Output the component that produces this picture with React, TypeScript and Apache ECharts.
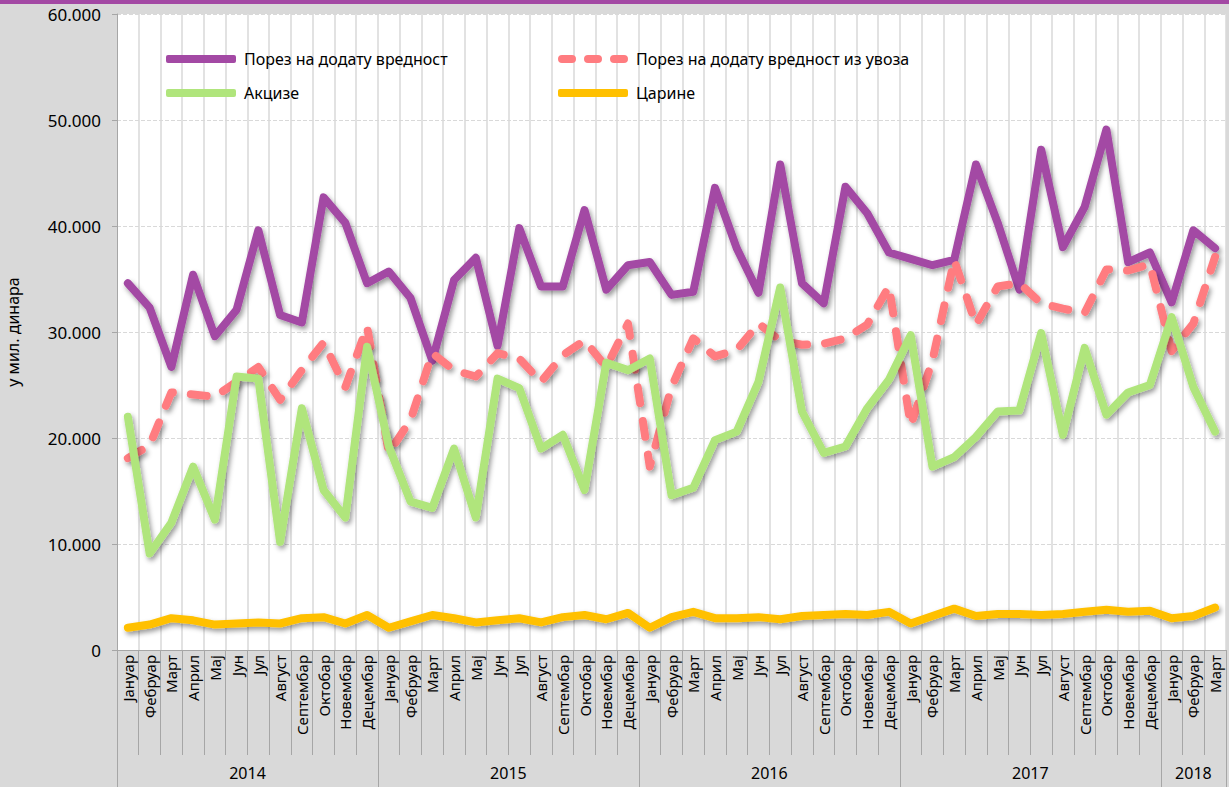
import React, { useEffect, useRef } from 'react';
import * as echarts from 'echarts';

const monthNames = ['Јануар', 'Фебруар', 'Март', 'Април', 'Мај', 'Јун', 'Јул', 'Август', 'Септембар', 'Октобар', 'Новембар', 'Децембар'];
const years = ['2014', '2015', '2016', '2017', '2018'];
const monthsPerYear = [12, 12, 12, 12, 3];

const seriesNames = ['Порез на додату вредност', 'Порез на додату вредност из увоза', 'Акцизе', 'Царине'];

const pdv = [
  34600, 32300, 26700, 35400, 29600, 32100, 39600, 31600, 30900, 42700, 40300, 34600,
  35700, 33200, 27300, 34900, 37000, 28700, 39800, 34300, 34300, 41500, 34000, 36300,
  36600, 33500, 33800, 43600, 37900, 33700, 45800, 34600, 32700, 43700, 41200, 37500,
  36900, 36300, 36800, 45800, 40300, 34000, 47200, 38000, 41800, 49100, 36600, 37500,
  32800, 39600, 37900,
];
const pdvImport = [
  18100, 19300, 24300, 24100, 23900, 25300, 26700, 23600, 26400, 29000, 24800, 30500,
  18600, 21700, 28000, 26400, 25800, 28000, 27500, 25300, 27800, 29200, 26700, 30800,
  17300, 24800, 29400, 27700, 28300, 30800, 29200, 28800, 28900, 29400, 30700, 34300,
  21200, 27300, 36800, 30700, 34300, 34600, 32700, 32200, 31800, 35900, 35800, 36400,
  28200, 30800, 37100,
];
const akcize = [
  22000, 9100, 12000, 17300, 12300, 25800, 25600, 10200, 22800, 15100, 12500, 28600,
  19200, 14000, 13400, 19000, 12500, 25600, 24700, 19000, 20300, 15100, 27100, 26400,
  27500, 14600, 15300, 19800, 20600, 25300, 34200, 22500, 18600, 19200, 22800, 25500,
  29700, 17300, 18200, 20100, 22500, 22600, 29900, 20300, 28500, 22200, 24300, 25000,
  31400, 24800, 20600,
];
const carine = [
  2100, 2400, 3000, 2800, 2400, 2500, 2600, 2500, 3000, 3100, 2500, 3300,
  2100, 2700, 3300, 3000, 2600, 2800, 3000, 2600, 3100, 3300, 2900, 3500,
  2100, 3100, 3600, 3000, 3000, 3100, 2900, 3200, 3300, 3400, 3300, 3600,
  2500, 3200, 3900, 3200, 3400, 3400, 3300, 3400, 3600, 3800, 3600, 3700,
  3000, 3200, 4000,
];

const FONT = 'Noto Sans';
const DASH_ICON =
  'path://M4,0H14A4,4 0 0 1 14,8H4A4,4 0 0 1 4,0Z M30,0H40A4,4 0 0 1 40,8H30A4,4 0 0 1 30,0Z M56,0H66A4,4 0 0 1 66,8H56A4,4 0 0 1 56,0Z';

export default function App() {
  const ref = useRef<HTMLDivElement>(null);
  useEffect(() => {
    const chart = echarts.init(ref.current!, null, { renderer: 'svg' });

    const monthLabels: string[] = [];
    const yearBounds: number[] = [0];
    const yearCenters: number[] = [];
    let acc = 0;
    monthsPerYear.forEach((n) => {
      for (let i = 0; i < n; i++) monthLabels.push(monthNames[i]);
      yearCenters.push(acc + n / 2);
      acc += n;
      yearBounds.push(acc);
    });

    const shadow = {
      shadowColor: 'rgba(0,0,0,0.4)',
      shadowBlur: 5,
      shadowOffsetX: 2,
      shadowOffsetY: 3,
    };
    const mk = (name: string, data: number[], color: string, dashed = false) => ({
      type: 'line',
      name,
      data,
      symbol: 'none',
      xAxisIndex: 0,
      yAxisIndex: 0,
      itemStyle: { color },
      lineStyle: {
        color,
        width: 8,
        join: 'round',
        cap: 'round',
        type: dashed ? [16, 18] : 'solid',
        ...shadow,
      },
    });

    const legendCommon = {
      orient: 'vertical',
      top: 46,
      itemWidth: 70,
      itemHeight: 8,
      itemGap: 18,
      itemStyle: { borderWidth: 0 },
      textStyle: { fontSize: 16, color: '#000', fontFamily: FONT, padding: [0, 0, 0, 3] },
    };

    chart.setOption({
      animation: false,
      backgroundColor: '#d9d9d9',
      textStyle: { fontFamily: FONT },
      graphic: [
        { type: 'rect', left: 0, top: 0, shape: { width: 1229, height: 4 }, style: { fill: '#a349a4' } },
      ],
      grid: {
        left: 117,
        right: 3,
        top: 14,
        bottom: 137,
        show: true,
        backgroundColor: '#ffffff',
        borderWidth: 0,
        containLabel: false,
        outerBoundsMode: 'none',
      },
      legend: [
        {
          ...legendCommon,
          left: 161,
          data: [
            { name: seriesNames[0], icon: 'roundRect' },
            { name: seriesNames[2], icon: 'roundRect' },
          ],
        },
        {
          ...legendCommon,
          left: 553,
          data: [
            { name: seriesNames[1], icon: DASH_ICON },
            { name: seriesNames[3], icon: 'roundRect' },
          ],
        },
      ],
      xAxis: [
        {
          type: 'category',
          data: monthLabels,
          boundaryGap: true,
          position: 'bottom',
          axisLine: { show: true, lineStyle: { color: '#a6a6a6', width: 1 } },
          axisTick: { show: true, interval: 0, length: 105, lineStyle: { color: '#a6a6a6' } },
          axisLabel: { interval: 0, rotate: 90, fontSize: 15, margin: 5, color: '#000', fontFamily: FONT },
          splitLine: { show: true, interval: 0, lineStyle: { color: '#d9d9d9', width: 1.5 } },
        },
        {
          type: 'value',
          min: 0,
          max: yearBounds[yearBounds.length - 1],
          position: 'bottom',
          offset: 137,
          axisLine: { show: false },
          axisTick: { show: true, inside: true, length: 137, customValues: yearBounds, lineStyle: { color: '#a6a6a6' } },
          axisLabel: {
            show: true,
            inside: true,
            customValues: yearCenters,
            margin: 6,
            fontSize: 16,
            color: '#000',
            fontFamily: FONT,
            formatter: (v: number) => {
              const idx = yearCenters.indexOf(v);
              return idx >= 0 ? years[idx] : '';
            },
          },
          splitLine: { show: false },
        },
      ],
      yAxis: {
        type: 'value',
        min: 0,
        max: 60000,
        interval: 10000,
        name: 'у мил. динара',
        nameLocation: 'middle',
        nameRotate: 90,
        nameGap: 96,
        nameTextStyle: { fontSize: 16, color: '#000', fontFamily: FONT },
        axisLine: { show: true, lineStyle: { color: '#a6a6a6' } },
        axisTick: { show: true, length: 5, lineStyle: { color: '#a6a6a6' } },
        axisLabel: {
          fontSize: 17,
          color: '#000',
          margin: 16,
          fontFamily: FONT,
          formatter: (v: number) => String(v).replace(/\B(?=(\d{3})+(?!\d))/g, '.'),
        },
        splitLine: { show: true, lineStyle: { type: 'dashed', color: '#d9d9d9' } },
      },
      series: [
        mk(seriesNames[0], pdv, '#a349a4'),
        mk(seriesNames[1], pdvImport, '#ff7c80', true),
        mk(seriesNames[2], akcize, '#b0e57c'),
        mk(seriesNames[3], carine, '#ffc000'),
      ],
    });
    return () => chart.dispose();
  }, []);
  return <div ref={ref} style={{ position: 'fixed', left: 0, top: 0, width: 1229, height: 787 }} />;
}
